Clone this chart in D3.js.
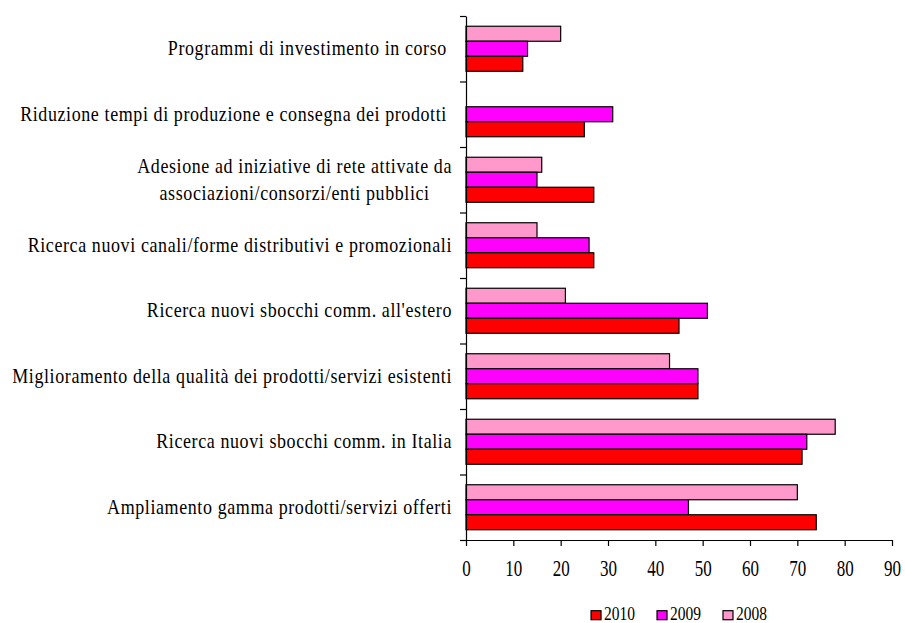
<!DOCTYPE html>
<html>
<head>
<meta charset="utf-8">
<script src="https://cdn.jsdelivr.net/npm/d3@7"></script>
<style>
  html, body { margin: 0; padding: 0; background: #fff; }
  svg { display: block; }
  text { font-family: "Liberation Serif", "Times New Roman", serif; fill: #000; }
</style>
</head>
<body>
<svg id="chart" width="905" height="623"></svg>
<script>
// Categories, top to bottom ("|" splits a label over two lines)
const categories = [
  "Programmi di investimento in corso\u00a0",
  "Riduzione tempi di produzione e consegna dei prodotti\u00a0",
  "Adesione ad iniziative di rete attivate da|associazioni/consorzi/enti pubblici",
  "Ricerca nuovi canali/forme distributivi e promozionali",
  "Ricerca nuovi sbocchi comm. all'estero",
  "Miglioramento della qualità dei prodotti/servizi esistenti",
  "Ricerca nuovi sbocchi comm. in Italia",
  "Ampliamento gamma prodotti/servizi offerti"
];

// Series (percent values)
const values2010 = [12, 25, 27, 27, 45, 49, 71, 74];
const values2009 = [13, 31, 15, 26, 51, 49, 72, 47];
const values2008 = [20, null, 16, 15, 21, 43, 78, 70];

const seriesNames = ["2008", "2009", "2010"];          // order within a group, top to bottom
const legendOrder = ["2010", "2009", "2008"];
const seriesColors = { "2010": "#FF0000", "2009": "#FF00FF", "2008": "#FF99CC" };
const seriesValues = { "2010": values2010, "2009": values2009, "2008": values2008 };

const xTicks = [0, 10, 20, 30, 40, 50, 60, 70, 80, 90];

const svg = d3.select("#chart");
const plotLeft = 466, plotRight = 892, plotTop = 16, plotBottom = 540;

const x = d3.scaleLinear().domain([0, 90]).range([plotLeft, plotRight]);
const y = d3.scaleBand().domain(d3.range(categories.length)).range([plotTop, plotBottom])
  .paddingInner(0.313).paddingOuter(0.1565);
const ySub = d3.scaleBand().domain(seriesNames).range([0, y.bandwidth()]);
const yEdges = d3.scaleLinear().domain([0, categories.length]).range([plotTop, plotBottom]);

// Bars
const groups = svg.append("g").selectAll("g")
  .data(categories.map((c, i) => i))
  .join("g")
  .attr("transform", i => `translate(0,${y(i)})`);

groups.selectAll("rect")
  .data(i => seriesNames.map(s => ({ s, v: seriesValues[s][i] })).filter(d => d.v != null))
  .join("rect")
  .attr("x", x(0))
  .attr("y", d => ySub(d.s))
  .attr("width", d => x(d.v) - x(0))
  .attr("height", ySub.bandwidth())
  .attr("fill", d => seriesColors[d.s])
  .attr("stroke", "#000")
  .attr("stroke-width", 1.2);

// Y axis: line and tick marks at the group boundaries
const yAxis = svg.append("g")
  .attr("transform", `translate(${plotLeft},0)`)
  .call(d3.axisLeft(yEdges).tickValues(d3.range(categories.length + 1)).tickFormat("").tickSize(6).tickSizeOuter(0));
yAxis.selectAll("path, line").attr("stroke", "#000").attr("stroke-width", 1.2);

// X axis
const xAxis = svg.append("g")
  .attr("transform", `translate(0,${plotBottom})`)
  .call(d3.axisBottom(x).tickValues(xTicks).tickSize(6).tickSizeOuter(0));
xAxis.selectAll("path, line").attr("stroke", "#000").attr("stroke-width", 1.2);
xAxis.selectAll("text")
  .attr("y", null).attr("dy", null)
  .attr("font-size", 17)
  .attr("font-family", "Liberation Serif, Times New Roman, serif")
  .attr("fill", "#000")
  .attr("transform", "translate(0,36) scale(1,1.3)");

// Category labels, right-aligned block; two-line labels are centred line by line
const labelRight = 452;
const labelSize = 18;
const labelStretch = 1.15;
categories.forEach((c, i) => {
  const lines = c.split("|");
  const cy = y(i) + y.bandwidth() / 2;
  const g = svg.append("g").attr("transform", `translate(0,${cy}) scale(1,${labelStretch})`);
  const t = g.append("text").attr("font-size", labelSize).attr("letter-spacing", 0.6);
  if (lines.length === 1) {
    t.attr("x", labelRight).attr("text-anchor", "end").attr("dy", "0.32em").text(lines[0]);
  } else {
    const spans = lines.map((ln, k) => t.append("tspan")
      .attr("x", labelRight).attr("text-anchor", "end")
      .attr("y", k === 0 ? -5.65 : 17.65).text(ln));
    const maxW = d3.max(spans, s => s.node().getComputedTextLength());
    spans.forEach(s => s.attr("text-anchor", "middle").attr("x", labelRight - maxW / 2));
  }
});

// Legend, centred under the plot
const legend = svg.append("g");
let lx = 0;
legendOrder.forEach(s => {
  const item = legend.append("g").attr("transform", `translate(${lx},0)`);
  item.append("rect").attr("x", 0).attr("y", -9.3).attr("width", 10).attr("height", 9)
    .attr("fill", seriesColors[s]).attr("stroke", "#000").attr("stroke-width", 1.2);
  const t = item.append("text").attr("x", 13).attr("font-size", 15.5)
    .attr("transform", "scale(1,1.25)").text(s);
  lx += 13 + t.node().getComputedTextLength() + 22;
});
const legendW = lx - 22;
legend.attr("transform", `translate(${(plotLeft + plotRight) / 2 - legendW / 2},620)`);
</script>
</body>
</html>
